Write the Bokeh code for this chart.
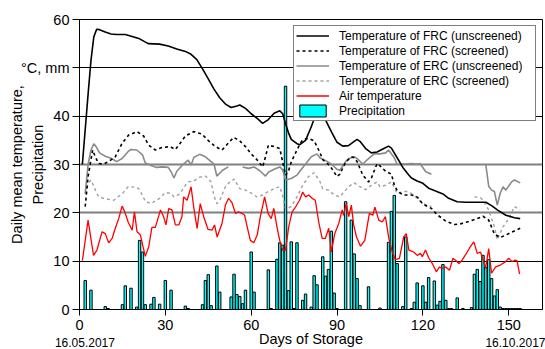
import numpy as np
from bokeh.plotting import figure
from bokeh.models import Range1d, FixedTicker, Grid, Legend, LegendItem, LinearAxis
from bokeh.embed import file_html
from bokeh.resources import INLINE

nan = np.nan

# ---------------- data ----------------
frc_unscr_days = [1, 3, 4, 5, 6, 7, 9, 11, 13, 16, 19, 21, 24, 28, 31, 34, 37, 39, 41, 43,
                  45, 47, 49, 51, 53, 55, 56, 58, 60, 62, 64, 66, 68, 70, 71, 72, 73, 74, 76, 77,
                  79, 81, 83, 85, 86, 88, 90, 92, 94, 96, 97, 98, 100, 102, 104, 106, 108, 109, 111, 113,
                  115, 116, 118, 120, 122, 124, 127, 129, 132, 135, 139, 142, 144, 146, 149, 152, 154]
frc_unscr_vals = [30.0, 44.5, 51.5, 56.4, 58.0, 57.9, 57.4, 57.0, 56.9, 56.9, 56.4, 56.0, 55.0, 54.9, 54.5, 53.9, 53.4, 52.8, 51.7, 49.8,
                  47.7, 45.6, 43.8, 42.5, 41.8, 42.1, 42.3, 41.6, 40.5, 39.6, 38.5, 39.3, 40.6, 41.1, 40.5, 38.5, 36.6, 35.2, 34.3, 34.1,
                  35.0, 37.8, 41.0, 40.5, 39.2, 36.8, 34.6, 33.8, 33.9, 34.8, 35.2, 34.8, 33.3, 32.4, 32.6, 33.2, 33.8, 33.4, 31.4, 29.4,
                  27.9, 27.2, 26.6, 26.1, 25.1, 24.6, 23.9, 23.0, 22.3, 22.2, 22.2, 22.2, 21.5, 20.6, 19.5, 19.0, 18.8]

frc_scr_days = [2, 3, 4.6, 5.5, 6.7, 8.4, 10.2, 12.5, 14.9, 17.2, 20.1, 22.4, 24.2, 26.5, 28.8, 31.7, 33.5, 34.7, 37, 39.9,
                42.8, 45.1, 47.5, 49.8, 52.1, 53.9, 56, 58, 60, 62, 64, 65, 66, 68, 70, 71, 72, 73, 74, 75,
                77, 78, 80, 82, 84, 85, 87, 88, 90, 91, 93, 95, 96, 97, 99, 101, 102, 104, 105, 107,
                109, 110, 111, 113, 116, 118, 120, 123, 125, 128, 131, 133, 136, 139, 141, 143, 145, 147, 149, 151, 154]
frc_scr_vals = [21.3, 27.5, 33.0, 31.6, 30.2, 30.1, 30.6, 31.6, 34.4, 36.1, 36.8, 35.9, 34.0, 33.0, 33.5, 33.7, 33.1, 34.0, 35.9, 36.8,
                36.3, 34.9, 33.7, 33.0, 34.5, 35.6, 34.9, 33.7, 32.2, 31.0, 29.5, 31.6, 34.0, 33.7, 33.3, 30.5, 27.8, 28.6, 30.5, 31.8,
                34.2, 35.1, 35.4, 34.9, 32.5, 31.0, 30.0, 29.3, 27.5, 28.0, 30.5, 31.6, 31.4, 30.6, 27.8, 26.4, 27.2, 30.2, 29.7, 28.6,
                28.0, 25.8, 24.6, 23.7, 23.7, 23.3, 21.8, 20.9, 19.6, 18.3, 17.6, 17.7, 18.2, 18.8, 19.3, 18.5, 15.6, 14.9, 15.4, 16.0, 16.8]

erc_unscr_days = [2, 3, 4, 5, 6, 7, 9, 11, 13, 15, 17, 18, 20, 22, 23, 25, 27, 29, 31, 32,
                  33, 34, 36, 38, 39, 40, 42, 44, 46, 47, 48, 50, 52, 54.5, 57, 59, 61, 63, 65, 66,
                  68, 70, 71, 72, 74, 76, 77, 79, 81, 83, 84, 86, 88, 90, 91, 93, 94, 96, 97, 99,
                  101, 103, 105, 107, 108, 110, 111, 113, 116, 118, 119, 121, 123, 132, 142, 143, 144, 145, 146, 147,
                  148, 149, 151, 152, 154]
erc_unscr_vals = [24.0, 30.0, 33.0, 34.3, 33.5, 32.4, 31.7, 31.3, 30.6, 31.3, 32.7, 33.1, 33.0, 32.0, 30.3, 29.8, 29.4, 29.5, 29.4, 28.5,
                  27.2, 28.6, 29.9, 30.9, 29.9, 31.5, 32.1, 31.6, 30.6, 30.1, 27.6, 28.8, 29.5, nan, 29.5, 29.2, 29.5, 28.7, 27.6, 28.4,
                  29.0, 29.5, 28.9, 26.8, 27.1, 27.8, 28.6, 30.1, 31.6, 32.2, 31.4, 30.8, 30.1, 29.0, 28.8, 30.6, 31.2, 31.6, 31.2, 30.1,
                  31.2, 32.2, 32.2, 32.4, 33.0, 31.4, 30.0, 30.1, 30.2, 30.1, 30.2, 28.5, 28.0, nan, 29.9, 25.5, 24.7, 24.4, 21.6, 24.0,
                  25.4, 24.7, 26.4, 26.8, 26.2]

erc_scr_days = [2, 3, 4, 5, 6, 7, 10, 12, 15, 17, 20, 21, 23, 25, 28, 30, 32, 33, 35, 37,
                38, 40, 42, 44, 46, 47, 48, 49, 50, 51, 52, 54, 56, 58, 60, 62, 64, 66, 68, 70, 71,
                72, 74, 76, 78, 80, 82, 84, 85, 87, 89, 91, 93, 94, 96, 98, 100, 102, 104, 105, 107,
                109, 111, 113, 115, 116, 118, 120, 123, 130, 138, 140, 141, 143, 145, 146, 148, 150, 152, 154]
erc_scr_vals = [24.0, 26.0, 26.8, 25.5, 24.0, 23.2, 22.8, 22.6, 24.0, 25.4, 25.3, 24.8, 22.4, 21.9, 23.0, 24.2, 24.0, 23.3, 23.9, 25.7,
                26.4, 26.6, 27.4, 27.6, 26.4, 23.5, 21.9, 22.5, 24.0, 25.4, 26.1, 27.0, 25.0, 24.7, 24.1, 23.3, 23.7, 24.4, 25.0, 25.4, 23.5,
                20.8, 21.3, 23.3, 25.7, 27.5, 28.3, 26.5, 25.0, 24.7, 23.7, 23.3, 24.7, 25.4, 26.2, 25.4, 24.8, 25.7, 26.4, 25.4, 25.7,
                26.4, 24.0, 24.4, 24.4, 24.0, 23.0, 21.9, 21.3, nan, 23.3, 23.2, 22.6, 20.6, 17.1, 14.4, 17.1, 18.8, 21.3, 20.6]

air_days = [1, 3, 4.9, 6.1, 7.9, 9, 10.2, 11.4, 12.5, 13.7, 14.9, 15.8, 17, 18.4, 19.2, 20.1, 21.3, 22.2, 23, 24.2,
            25.3, 26.5, 28.3, 29.4, 30.2, 31.2, 32.3, 33.5, 34.7, 35.8, 36.4, 37.6, 39, 39.9, 41.1, 42.2, 43.4, 44.9, 46.3, 47.2,
            48.1, 49.8, 51, 52.1, 53.3, 54.5, 55.6, 56.8, 57.7, 58.6, 59.7, 60.9, 62.1, 63.2, 64.7, 65.9, 67, 67.9, 69.1, 70.2,
            71, 72, 73.1, 74.3, 75.5, 76.9, 78, 79, 80.1, 81.3, 82.4, 83.6, 84.8, 85.9, 87.1, 88, 89.2, 90.6, 91.8, 92.3,
            93.2, 94.1, 95, 95.8, 96.8, 98.2, 99.7, 101.3, 102.5, 103.2, 104.6, 105.8, 106.9, 108.1, 109.3, 110.4, 111.8, 113.3, 114.2, 115.1,
            116.8, 118, 119.2, 119.8, 120.9, 122.1, 123.3, 124.7, 125.8, 126.7, 128, 129.3, 130.5, 131.4, 132.6, 133.7, 135.5, 136.6, 137.8, 139,
            140.1, 140.9, 141.9, 143, 144, 145.4, 147.1, 148.9, 150, 151.2, 152.1, 152.9, 153.8]
air_vals = [10.1, 18.5, 11.2, 12.3, 16.1, 15.7, 13.8, 14.7, 16.8, 18.8, 21.4, 20.2, 18.1, 16.4, 20.2, 16.1, 15.4, 13.0, 11.0, 13.0,
            17.0, 17.0, 20.6, 19.2, 17.5, 20.9, 20.6, 17.5, 17.5, 19.2, 23.3, 22.6, 25.4, 21.2, 16.8, 21.9, 19.2, 16.6, 16.4, 17.5,
            15.0, 17.8, 21.6, 23.0, 22.1, 19.9, 20.2, 19.9, 19.5, 17.1, 14.3, 13.8, 15.4, 19.2, 23.3, 19.9, 18.8, 20.9, 16.8, 13.7,
            12.3, 12.3, 17.1, 20.2, 21.2, 22.6, 24.3, 23.3, 23.7, 23.0, 22.6, 18.1, 14.7, 14.7, 16.8, 11.9, 15.7, 17.8, 20.6, 19.5,
            21.9, 19.2, 21.6, 17.5, 15.0, 13.1, 14.3, 19.9, 19.5, 21.2, 18.5, 18.1, 19.2, 14.7, 11.9, 10.3, 10.6, 15.0, 15.7, 12.3,
            11.9, 11.2, 11.6, 10.9, 12.3, 10.6, 9.5, 7.8, 8.8, 8.5, 8.8, 8.1, 10.6, 10.2, 9.5, 10.2, 11.9, 13.0, 14.0, 11.6,
            11.9, 10.6, 8.5, 12.6, 7.5, 8.8, 9.2, 9.9, 10.6, 9.9, 10.2, 10.1, 7.3]

precip_days = [2, 4, 9, 10, 15, 16, 18, 20, 21, 22, 23, 25, 26, 28, 30, 32, 37, 38, 43, 44,
               45, 46, 48, 49, 53, 54, 55, 56, 57, 58, 60, 61, 66, 67, 69, 70, 71, 72, 73, 74,
               75, 76, 78, 79, 81, 82, 83, 85, 86, 87, 88, 89, 90, 93, 95, 96, 97, 98, 101, 105,
               108, 109, 110, 111, 113, 114, 116, 117, 118, 120, 121, 122, 124, 125, 126, 127, 128, 129, 130, 132,
               134, 137, 138, 139, 140, 141, 142, 143, 144, 145, 146, 147, 148, 149, 150, 151, 152, 153, 154]
precip_vals = [6.0, 4.0, 0.6, 0.2, 1.0, 4.9, 4.4, 0.5, 14.3, 11.9, 1.0, 1.1, 2.5, 1.1, 6.0, 4.0, 0.7, 0.2, 1.0, 6.0,
               7.2, 0.8, 9.0, 3.6, 2.6, 7.3, 3.1, 2.7, 1.2, 4.0, 11.9, 3.6, 8.2, 0.2, 10.4, 13.8, 13.3, 46.2, 3.9, 14.0,
               0.2, 13.8, 1.9, 3.2, 0.5, 7.0, 5.1, 10.9, 6.9, 8.3, 16.2, 3.4, 0.2, 22.3, 18.5, 11.5, 6.4, 0.8, 4.7, 0.3,
               13.9, 20.3, 23.6, 9.5, 0.6, 15.0, 0.2, 1.5, 5.5, 4.9, 1.5, 6.6, 5.9, 0.9, 1.7, 9.3, 1.9, 0.2, 0.2, 2.4,
               0.2, 0.4, 7.3, 8.3, 5.8, 11.2, 8.7, 10.3, 6.4, 2.8, 4.1, 0.5, 0.2, 0.2, 0.2, 0.2, 0.2, 0.2, 0.2]

x_ticks = [0, 30, 60, 90, 120, 150]
y_ticks = [0, 10, 20, 30, 40, 50, 60]
y_tick_overrides = {50: "°C, mm"}
black_grid = [10, 40, 50]
gray_grid = [20, 30]
date_ticks = [1.9, 152.4]
date_labels = {1.9: "16.05.2017", 152.4: "16.10.2017"}

FONT = "Liberation Sans"

# ---------------- figure ----------------
p = figure(width=545, height=349, output_backend="svg", toolbar_location=None, title=None,
           x_range=Range1d(0, 161.8), y_range=Range1d(0, 60),
           min_border_left=79, min_border_right=3, min_border_top=19, min_border_bottom=40)
p.outline_line_color = "black"
p.outline_line_width = 1
p.background_fill_color = "white"
p.border_fill_color = "white"

for ax in (p.xaxis[0], p.yaxis[0]):
    ax.axis_line_color = "black"
    ax.major_tick_line_color = "black"
    ax.major_tick_in = 0
    ax.minor_tick_in = 0
    ax.minor_tick_out = 0
    ax.major_label_text_font = FONT
    ax.major_label_text_font_size = "14.5px"
    ax.major_label_text_color = "black"

p.xaxis.ticker = FixedTicker(ticks=x_ticks)
p.xaxis.major_tick_out = 6
p.xaxis.major_label_standoff = 4

p.yaxis.ticker = FixedTicker(ticks=y_ticks)
p.yaxis.major_tick_out = 7
p.yaxis.major_label_standoff = 3
p.yaxis.major_label_overrides = y_tick_overrides
p.yaxis.axis_label = "Daily mean temperature,\nPrecipitation"
p.yaxis.axis_label_text_font = FONT
p.yaxis.axis_label_text_font_size = "14.5px"
p.yaxis.axis_label_text_font_style = "normal"
p.yaxis.axis_label_text_color = "black"
p.yaxis.axis_label_text_line_height = 1.3
p.yaxis.axis_label_standoff = -28

# second axis below: dates + axis title on one row
date_axis = LinearAxis(ticker=FixedTicker(ticks=date_ticks), major_label_overrides=date_labels,
                       axis_line_color=None, major_tick_line_color=None, minor_tick_line_color=None,
                       major_tick_out=0, major_tick_in=0, minor_tick_out=0, minor_tick_in=0,
                       major_label_standoff=5,
                       major_label_text_font=FONT, major_label_text_font_size="12px",
                       major_label_text_color="black",
                       axis_label="Days of Storage", axis_label_text_font=FONT,
                       axis_label_text_font_size="14.5px", axis_label_text_font_style="normal",
                       axis_label_text_color="black", axis_label_standoff=-19)
p.add_layout(date_axis, "below")

p.xgrid.visible = False
p.ygrid.ticker = FixedTicker(ticks=black_grid)
p.ygrid.grid_line_color = "black"
p.ygrid.grid_line_width = 1
p.add_layout(Grid(dimension=1, ticker=FixedTicker(ticks=gray_grid),
                  grid_line_color="#808080", grid_line_width=2))

# ---------------- glyphs ----------------
r_pr = p.vbar(x=precip_days, top=precip_vals, bottom=0, width=0.85,
              fill_color="#00ffff", line_color="black", line_width=1)
r_es = p.line(erc_scr_days, np.array(erc_scr_vals), line_color="#a0a0a0", line_width=1.4, line_dash="3 3")
r_eu = p.line(erc_unscr_days, np.array(erc_unscr_vals), line_color="#8a8a8a", line_width=1.6)
r_air = p.line(air_days, air_vals, line_color="#ff0000", line_width=1.3)
r_fs = p.line(frc_scr_days, frc_scr_vals, line_color="black", line_width=1.6, line_dash="3 3")
r_fu = p.line(frc_unscr_days, frc_unscr_vals, line_color="black", line_width=1.6)

legend = Legend(items=[
    LegendItem(label="Temperature of FRC (unscreened)", renderers=[r_fu]),
    LegendItem(label="Temperature of FRC (screened)", renderers=[r_fs]),
    LegendItem(label="Temperature of ERC (unscreened)", renderers=[r_eu]),
    LegendItem(label="Temperature of ERC (screened)", renderers=[r_es]),
    LegendItem(label="Air temperature", renderers=[r_air]),
    LegendItem(label="Precipitation", renderers=[r_pr]),
], location="top_right")
legend.margin = 6
legend.padding = 2
legend.spacing = 0
legend.glyph_height = 15
legend.label_height = 15
legend.glyph_width = 33
legend.label_standoff = 10
legend.label_width = 194
legend.label_text_font = FONT
legend.label_text_font_size = "12px"
legend.label_text_color = "black"
legend.border_line_color = "black"
legend.border_line_width = 1
legend.background_fill_color = "white"
legend.background_fill_alpha = 1.0
p.add_layout(legend)

open("out.html", "w").write(file_html(p, INLINE))
